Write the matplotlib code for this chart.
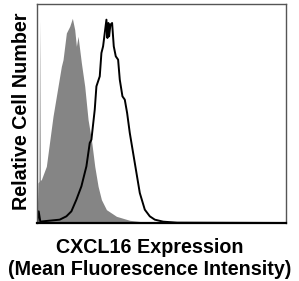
import matplotlib
matplotlib.use("Agg")
import matplotlib.pyplot as plt

# isotype control (filled gray) in axis units
ctrl_x = [0, 3, 6, 8, 10, 13, 28, 48, 58, 73, 78, 88, 98, 106, 113, 118, 123, 128,
          133, 143, 153, 163, 173, 183, 193, 208, 238, 278, 330, 746]
ctrl_y = [0, 120, 125, 610, 128, 130, 170, 320, 380, 470, 490, 570, 590, 614, 580, 530,
          560, 520, 480, 410, 310, 250, 170, 110, 70, 40, 20, 8, 2, 0]

# CXCL16 stained (black line)
cxcl_x = [0, 5, 10, 18, 68, 88, 103, 118, 133, 148, 158, 163, 173, 178, 188, 193, 198,
          203, 208, 211, 214, 216, 220, 225, 230, 236, 243, 248, 256, 263, 270, 278,
          288, 298, 308, 323, 338, 353, 378, 420, 746]
cxcl_y = [0, 35, 4, 5, 10, 20, 35, 70, 110, 170, 240, 250, 340, 410, 440, 510, 530,
          570, 610, 555, 600, 560, 595, 600, 530, 500, 490, 430, 380, 370, 330, 270,
          210, 150, 90, 40, 20, 10, 4, 1, 0]

xlabel_lines = ["CXCL16 Expression", "(Mean Fluorescence Intensity)"]
ylabel = "Relative Cell Number"

plt.rcParams["font.family"] = ["Liberation Sans", "DejaVu Sans"]

W, H = 299, 281
fig = plt.figure(figsize=(W / 100, H / 100), dpi=100)
ax = fig.add_axes([37 / W, 1 - 223 / H, 249 / W, 219 / H])

ax.fill_between(ctrl_x, ctrl_y, color="#858585", linewidth=0)
ax.plot(cxcl_x, cxcl_y, color="black", linewidth=1.4)

ax.set_xlim(0, 746)
ax.set_ylim(0, 657)
ax.set_xticks([])
ax.set_yticks([])
for s in ax.spines.values():
    s.set_color("#555555")
    s.set_linewidth(1.0)
ax.spines["bottom"].set_color("black")
ax.spines["bottom"].set_linewidth(1.6)

for line, base in zip(xlabel_lines, [253, 275]):
    fig.text(0.5, 1 - base / H, line, ha="center", va="baseline", fontsize=14.2,
             fontweight="bold")
fig.text(21.5 / W, 1 - 111 / H, ylabel, ha="center", va="center", rotation=90,
         fontsize=14.2, fontweight="bold")

fig.savefig("out.png", dpi=100)
